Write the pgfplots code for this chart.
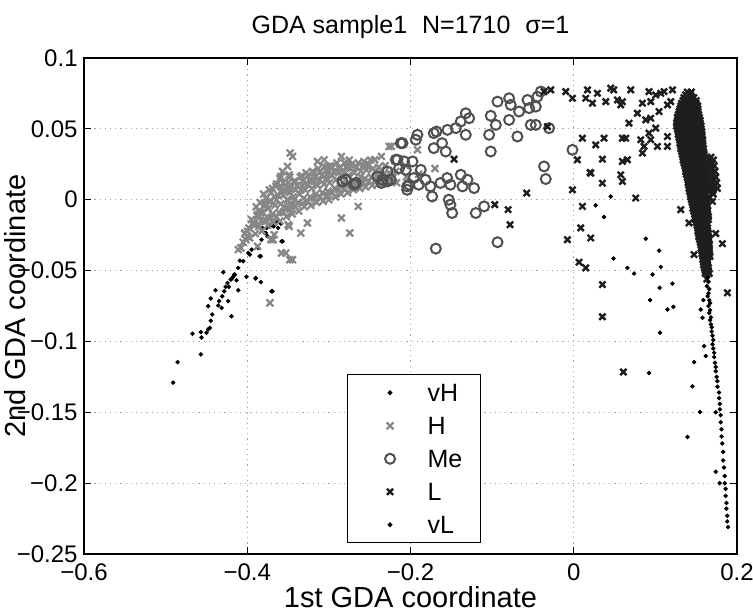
\documentclass[border=0pt]{standalone}
\usepackage{fontspec}
\setmainfont{Liberation Sans}
\usepackage{pgfplots}
\pgfplotsset{compat=1.18}
\definecolor{Hgray}{RGB}{135,135,135}
\definecolor{Megray}{RGB}{80,80,80}
\definecolor{Lblack}{RGB}{30,30,30}

\begin{document}
\begin{tikzpicture}
\begin{axis}[
  scale only axis, width=326.5pt, height=248pt,
  xmin=-0.6, xmax=0.2, ymin=-0.25, ymax=0.1,
  xtick={-0.6,-0.4,-0.2,0,0.2},
  xticklabels={−0.6,−0.4,−0.2,0,0.2},
  ytick={-0.25,-0.2,-0.15,-0.1,-0.05,0,0.05,0.1},
  yticklabels={−0.25,−0.2,−0.15,−0.1,−0.05,0,0.05,0.1},
  tick label style={font=\fontsize{12}{12}\selectfont},
  xticklabel style={anchor=base, inner sep=0pt, yshift=-13pt},
  yticklabel style={anchor=east, inner sep=0pt, xshift=-3pt},
  major tick length=3.5pt, tick style={black, line width=0.5pt},
  axis line style={line width=0.6pt},
  grid=major,
  major grid style={gray!70, line width=0.5pt, dash pattern=on 0.6pt off 2pt},
  xlabel={1st GDA coordinate},
  ylabel={2nd GDA coordinate},
  label style={font=\fontsize{14.5}{14.5}\selectfont},
  xlabel style={at={(axis description cs:0.5,0)}, anchor=base, yshift=-26.5pt},
  ylabel style={at={(axis description cs:-0.1057,0.5)}, anchor=center, rotate=0},
  every axis title shift=0pt,
  title={GDA sample1\hspace{0.6em}N=1710\hspace{0.6em}σ=1},
  title style={font=\fontsize{12.5}{12.5}\selectfont, at={(axis description cs:0.5,1)}, anchor=base, yshift=12pt},
  legend image code/.code={%
    \path (0pt,0pt) (22pt,0pt);
    \draw[mark repeat=2, mark phase=2, #1] plot coordinates {(0pt,0pt) (12pt,0pt) (22pt,0pt)};},
  legend style={font=\fontsize{12.5}{12.5}\selectfont, at={(axis cs:-0.278,-0.2425)}, anchor=south west,
    draw=black, line width=0.6pt, inner xsep=9pt, inner ysep=4.5pt, row sep=7.5pt,
    nodes={inner sep=0pt, text height=9pt, text depth=0pt},
    /tikz/every odd column/.append style={column sep=8.5pt}},
  legend cell align=left,
]
% vH
\addplot[only marks, mark=*, mark size=0.9pt, black] table {
-0.4908 -0.1291
-0.4854 -0.1146
-0.4568 -0.1092
-0.4670 -0.0946
-0.4560 -0.0972
-0.4568 -0.0934
-0.4499 -0.0939
-0.4479 -0.0915
-0.4458 -0.0904
-0.4446 -0.0854
-0.4430 -0.0810
-0.4479 -0.0751
-0.4446 -0.0697
-0.4388 -0.0639
-0.4356 -0.0746
-0.4344 -0.0716
-0.4315 -0.0763
-0.4307 -0.0681
-0.4295 -0.0512
-0.4283 -0.0646
-0.4266 -0.0615
-0.4242 -0.0587
-0.4234 -0.0716
-0.4226 -0.0615
-0.4193 -0.0559
-0.4193 -0.0822
-0.4173 -0.0544
-0.4152 -0.0528
-0.4131 -0.0568
-0.4111 -0.0639
-0.4111 -0.0481
-0.4090 -0.0430
-0.4050 -0.0434
-0.4009 -0.0544
-0.3988 -0.0376
-0.3968 -0.0387
-0.3947 -0.0352
-0.3898 -0.0556
-0.3866 -0.0340
-0.3846 -0.0399
-0.3833 -0.0582
-0.3825 -0.0282
-0.3785 -0.0235
-0.3764 -0.0199
-0.3723 -0.0188
-0.3703 -0.0646
-0.3683 -0.0176
-0.3642 -0.0164
-0.3580 -0.0294
-0.3622 -0.0199
-0.4201 -0.0563
-0.4160 -0.0528
-0.3895 -0.0552
-0.3834 -0.0399
-0.3813 -0.0199
-0.3772 -0.0235
-0.3752 -0.0258
-0.3731 -0.0183
-0.3711 -0.0176
-0.3678 -0.0188
-0.3662 -0.0164
-0.3629 -0.0141
-0.3589 -0.0169
-0.3568 -0.0294
-0.3690 -0.0646
};
\addlegendentry{vH}
% H
\addplot[only marks, mark=x, mark size=2.4pt, Hgray, mark options={line width=1.1pt}] table {
-0.3474 0.0329
-0.3445 0.0305
-0.3506 0.0235
-0.3568 0.0199
-0.3589 0.0164
-0.3487 0.0176
-0.3650 0.0094
-0.3515 0.0082
-0.3589 0.0059
-0.3772 0.0012
-0.3731 -0.0012
-0.3793 -0.0047
-0.3834 -0.0094
-0.3874 -0.0117
-0.3915 -0.0164
-0.3996 -0.0223
-0.4017 -0.0282
-0.4078 -0.0340
-0.3874 -0.0329
-0.3711 -0.0282
-0.3670 -0.0247
-0.3487 -0.0188
-0.3344 -0.0235
-0.3262 -0.0164
-0.3527 -0.0376
-0.3445 -0.0423
-0.3548 -0.0047
-0.3426 0.0000
-0.3344 0.0070
-0.3221 0.0129
-0.3140 0.0270
-0.3058 0.0282
-0.3017 0.0235
-0.2846 0.0305
-0.2764 0.0246
-0.2641 -0.0047
-0.2846 -0.0129
-0.2744 -0.0235
-0.2438 0.0282
-0.2356 0.0305
-0.2527 0.0235
-0.2609 0.0164
-0.2233 0.0376
-0.3723 -0.0728
-0.3580 -0.0376
-0.3478 -0.0423
-0.4110 -0.0352
-0.4029 -0.0235
-0.3866 -0.0106
-0.3785 -0.0023
-0.3683 -0.0282
-0.3499 -0.0176
-0.405 -0.030
-0.403 -0.024
-0.397 -0.027
-0.398 -0.020
-0.395 -0.014
-0.390 -0.024
-0.391 -0.018
-0.388 -0.011
-0.389 -0.005
-0.382 -0.022
-0.383 -0.015
-0.381 -0.009
-0.384 -0.002
-0.380 0.004
-0.375 -0.018
-0.376 -0.012
-0.374 -0.006
-0.377 0.001
-0.373 0.007
-0.368 -0.016
-0.369 -0.010
-0.366 -0.004
-0.367 0.002
-0.369 0.008
-0.360 -0.015
-0.361 -0.009
-0.359 -0.003
-0.362 0.003
-0.358 0.009
-0.360 0.015
-0.352 -0.012
-0.353 -0.006
-0.351 0.000
-0.354 0.006
-0.350 0.012
-0.345 -0.010
-0.346 -0.004
-0.344 0.002
-0.347 0.008
-0.343 0.013
-0.337 -0.008
-0.338 -0.002
-0.336 0.004
-0.339 0.010
-0.335 0.016
-0.330 -0.005
-0.331 0.001
-0.329 0.007
-0.332 0.013
-0.328 0.019
-0.322 -0.004
-0.323 0.002
-0.321 0.008
-0.324 0.014
-0.320 0.020
-0.315 -0.002
-0.316 0.004
-0.314 0.010
-0.317 0.016
-0.313 0.022
-0.307 -0.001
-0.308 0.005
-0.306 0.011
-0.309 0.017
-0.305 0.023
-0.300 0.000
-0.301 0.006
-0.299 0.012
-0.302 0.018
-0.298 0.024
-0.292 0.002
-0.293 0.008
-0.291 0.014
-0.294 0.020
-0.290 0.026
-0.285 0.004
-0.286 0.010
-0.284 0.016
-0.287 0.022
-0.277 0.005
-0.278 0.011
-0.276 0.017
-0.279 0.023
-0.275 0.028
-0.270 0.007
-0.271 0.013
-0.269 0.019
-0.272 0.025
-0.262 0.008
-0.263 0.014
-0.261 0.020
-0.264 0.026
-0.255 0.009
-0.256 0.015
-0.254 0.021
-0.257 0.027
-0.247 0.010
-0.248 0.016
-0.246 0.022
-0.249 0.028
-0.240 0.011
-0.241 0.017
-0.239 0.023
-0.232 0.012
-0.233 0.018
-0.231 0.024
-0.225 0.013
-0.226 0.019
-0.217 0.012
-0.218 0.020
-0.205 0.016
-0.206 0.024
-0.190 0.018
-0.170 0.022
-0.2262 0.0376
-0.1915 0.0352
-0.400 -0.026
-0.394 -0.017
-0.386 -0.019
-0.386 -0.008
-0.378 -0.015
-0.378 -0.003
-0.371 -0.013
-0.371 -0.001
-0.371 0.005
-0.364 -0.012
-0.364 0.000
-0.364 0.011
-0.356 -0.009
-0.356 0.003
-0.356 0.012
-0.348 -0.007
-0.348 0.005
-0.348 0.016
-0.341 -0.005
-0.341 0.007
-0.341 0.013
-0.333 -0.003
-0.333 0.010
-0.333 0.017
-0.326 -0.001
-0.326 0.011
-0.326 0.017
-0.318 0.001
-0.318 0.013
-0.318 0.019
-0.311 0.002
-0.311 0.014
-0.311 0.020
-0.303 0.003
-0.303 0.015
-0.303 0.021
-0.296 0.005
-0.296 0.017
-0.296 0.023
-0.288 0.007
-0.288 0.019
-0.281 0.008
-0.281 0.020
-0.281 0.026
-0.273 0.010
-0.273 0.022
-0.266 0.011
-0.266 0.023
-0.258 0.012
-0.258 0.024
-0.251 0.013
-0.251 0.025
-0.243 0.014
-0.243 0.020
-0.236 0.015
-0.236 0.021
-0.228 0.016
-0.221 0.016
};
\addlegendentry{H}
% Me
\addplot[only marks, mark=o, mark size=2.5pt, Megray, mark options={line width=1pt}] table {
-0.2098 0.0399
-0.1935 0.0423
-0.1915 0.0458
-0.1682 0.0481
-0.1547 0.0493
-0.1445 0.0505
-0.1384 0.0552
-0.1323 0.0610
-0.1282 0.0575
-0.1323 0.0458
-0.1613 0.0399
-0.1715 0.0364
-0.1568 0.0340
-0.1715 0.0470
-0.1017 0.0592
-0.0955 0.0528
-0.1037 0.0458
-0.1017 0.0340
-0.0934 0.0692
-0.0792 0.0716
-0.0772 0.0669
-0.0792 0.0563
-0.0670 0.0622
-0.0690 0.0446
-0.0567 0.0704
-0.0547 0.0646
-0.0465 0.0657
-0.0445 0.0727
-0.0404 0.0763
-0.0527 0.0528
-0.0465 0.0528
-0.0302 0.0505
-0.0016 0.0352
-0.0364 0.0235
-0.0343 0.0146
-0.0934 -0.0300
-0.1690 -0.0345
-0.2041 0.0094
-0.1960 0.0153
-0.1899 0.0106
-0.1817 0.0141
-0.1756 0.0094
-0.1735 0.0023
-0.1633 0.0118
-0.1551 0.0153
-0.1511 0.0106
-0.1531 0.0000
-0.1511 -0.0035
-0.1490 -0.0094
-0.1384 0.0176
-0.1302 0.0141
-0.1363 0.0094
-0.1221 0.0082
-0.1200 -0.0094
-0.1098 -0.0047
-0.1874 0.0211
-0.1976 0.0270
-0.2058 0.0211
-0.2119 0.0399
-0.2180 0.0282
-0.2078 0.0270
-0.2139 0.0223
-0.2160 0.0282
-0.2282 0.0199
-0.2405 0.0164
-0.2343 0.0141
-0.2282 0.0129
-0.2356 0.0118
-0.2670 0.0118
-0.2690 0.0106
-0.2792 0.0141
-0.2833 0.0129
-0.2017 0.0106
-0.2041 0.0070
-0.2242 0.0141
};
\addlegendentry{Me}
% L
\addplot[only marks, mark=x, mark size=2.2pt, Lblack, mark options={line width=1.2pt}] table {
-0.0098 0.0763
-0.0016 0.0716
0.0168 0.0775
0.0147 0.0716
0.0229 0.0681
0.0290 0.0751
0.0392 0.0692
0.0453 0.0787
0.0490 0.0775
0.0535 0.0704
0.0576 0.0669
0.0596 0.0692
0.0698 0.0775
0.0841 0.0681
0.0922 0.0763
0.0943 0.0692
0.1004 0.0739
0.1066 0.0751
0.1106 0.0763
0.1209 0.0775
0.1188 0.0692
0.1148 0.0669
0.1045 0.0622
0.0780 0.0610
0.0677 0.0540
0.0882 0.0563
0.0943 0.0575
0.1004 0.0505
0.0922 0.0470
0.0943 0.0423
0.0821 0.0423
0.0861 0.0376
0.0841 0.0329
0.1025 0.0376
0.1148 0.0376
0.1148 0.0446
0.0106 0.0434
0.0371 0.0434
0.0269 0.0387
0.0596 0.0434
0.0637 0.0434
0.0045 0.0282
0.0351 0.0286
0.0596 0.0270
0.0657 0.0282
0.0208 0.0188
0.0351 0.0117
0.0576 0.0176
0.0596 0.0129
-0.0016 0.0070
0.0759 0.0012
0.0106 -0.0047
0.0086 -0.0199
0.0208 -0.0270
-0.0078 -0.0282
0.0065 -0.0441
0.0147 -0.0481
0.0351 -0.0599
0.0351 -0.0826
0.1310 -0.0070
0.1412 -0.0164
0.1474 -0.0387
0.1739 -0.0239
0.1821 -0.0310
0.1699 -0.0012
0.1882 -0.0657
-0.1466 0.0286
-0.0576 0.0047
-0.0968 -0.0035
-0.0804 -0.0070
-0.0780 -0.0176
-0.0322 0.0516
-0.0282 0.0775
-0.0364 0.0763
0.0200 0.0192
0.0608 -0.1216
0.139 0.076
0.144 0.076
0.135 0.072
0.141 0.072
0.147 0.072
0.132 0.068
0.138 0.068
0.144 0.068
0.150 0.068
0.130 0.064
0.136 0.064
0.142 0.064
0.148 0.064
0.152 0.064
0.128 0.060
0.134 0.060
0.140 0.060
0.146 0.060
0.153 0.060
0.127 0.056
0.133 0.056
0.139 0.056
0.145 0.056
0.151 0.056
0.155 0.056
0.126 0.052
0.132 0.052
0.138 0.052
0.144 0.052
0.150 0.052
0.156 0.052
0.128 0.048
0.134 0.048
0.140 0.048
0.146 0.048
0.152 0.048
0.157 0.048
0.129 0.044
0.135 0.044
0.141 0.044
0.147 0.044
0.153 0.044
0.157 0.044
0.130 0.040
0.136 0.040
0.142 0.040
0.148 0.040
0.154 0.040
0.158 0.040
0.131 0.036
0.137 0.036
0.143 0.036
0.149 0.036
0.155 0.036
0.159 0.036
0.133 0.032
0.139 0.032
0.145 0.032
0.151 0.032
0.157 0.032
0.160 0.032
0.134 0.028
0.140 0.028
0.146 0.028
0.152 0.028
0.158 0.028
0.166 0.028
0.171 0.028
0.136 0.024
0.142 0.024
0.148 0.024
0.154 0.024
0.160 0.024
0.167 0.024
0.172 0.024
0.137 0.020
0.143 0.020
0.149 0.020
0.155 0.020
0.160 0.020
0.168 0.020
0.173 0.020
0.139 0.016
0.145 0.016
0.151 0.016
0.157 0.016
0.161 0.016
0.169 0.016
0.174 0.016
0.140 0.012
0.146 0.012
0.152 0.012
0.158 0.012
0.162 0.012
0.170 0.012
0.175 0.012
0.141 0.008
0.147 0.008
0.153 0.008
0.159 0.008
0.163 0.008
0.171 0.008
0.176 0.008
0.143 0.004
0.149 0.004
0.155 0.004
0.161 0.004
0.171 0.004
0.144 0.000
0.150 0.000
0.156 0.000
0.162 0.000
0.146 -0.004
0.152 -0.004
0.158 -0.004
0.164 -0.004
0.147 -0.008
0.153 -0.008
0.159 -0.008
0.164 -0.008
0.149 -0.012
0.155 -0.012
0.161 -0.012
0.165 -0.012
0.150 -0.016
0.156 -0.016
0.162 -0.016
0.152 -0.020
0.158 -0.020
0.164 -0.020
0.153 -0.024
0.159 -0.024
0.165 -0.024
0.154 -0.028
0.160 -0.028
0.166 -0.028
0.156 -0.032
0.161 -0.032
0.166 -0.032
0.157 -0.036
0.162 -0.036
0.166 -0.036
0.158 -0.040
0.163 -0.040
0.167 -0.040
0.159 -0.044
0.164 -0.044
0.160 -0.048
0.165 -0.048
0.161 -0.052
0.166 -0.052
0.163 -0.056
0.137 0.074
0.143 0.074
0.134 0.070
0.140 0.070
0.146 0.070
0.150 0.070
0.131 0.066
0.137 0.066
0.143 0.066
0.149 0.066
0.152 0.066
0.129 0.062
0.135 0.062
0.141 0.062
0.147 0.062
0.152 0.062
0.127 0.058
0.133 0.058
0.139 0.058
0.145 0.058
0.151 0.058
0.154 0.058
0.126 0.054
0.132 0.054
0.138 0.054
0.144 0.054
0.150 0.054
0.155 0.054
0.127 0.050
0.133 0.050
0.139 0.050
0.145 0.050
0.151 0.050
0.156 0.050
0.128 0.046
0.134 0.046
0.140 0.046
0.146 0.046
0.152 0.046
0.157 0.046
0.130 0.042
0.136 0.042
0.142 0.042
0.148 0.042
0.154 0.042
0.158 0.042
0.131 0.038
0.137 0.038
0.143 0.038
0.149 0.038
0.155 0.038
0.158 0.038
0.132 0.034
0.138 0.034
0.144 0.034
0.150 0.034
0.156 0.034
0.159 0.034
0.134 0.030
0.140 0.030
0.146 0.030
0.152 0.030
0.158 0.030
0.163 0.030
0.168 0.030
0.135 0.026
0.141 0.026
0.147 0.026
0.153 0.026
0.159 0.026
0.164 0.026
0.169 0.026
0.137 0.022
0.143 0.022
0.149 0.022
0.155 0.022
0.161 0.022
0.165 0.022
0.170 0.022
0.138 0.018
0.144 0.018
0.150 0.018
0.156 0.018
0.161 0.018
0.166 0.018
0.171 0.018
0.140 0.014
0.146 0.014
0.152 0.014
0.158 0.014
0.162 0.014
0.167 0.014
0.172 0.014
0.141 0.010
0.147 0.010
0.153 0.010
0.159 0.010
0.163 0.010
0.168 0.010
0.173 0.010
0.142 0.006
0.148 0.006
0.154 0.006
0.160 0.006
0.165 0.006
0.170 0.006
0.143 0.002
0.149 0.002
0.155 0.002
0.161 0.002
0.166 0.002
0.145 -0.002
0.151 -0.002
0.157 -0.002
0.163 -0.002
0.146 -0.006
0.152 -0.006
0.158 -0.006
0.163 -0.006
0.148 -0.010
0.154 -0.010
0.160 -0.010
0.164 -0.010
0.149 -0.014
0.155 -0.014
0.161 -0.014
0.165 -0.014
0.151 -0.018
0.157 -0.018
0.163 -0.018
0.152 -0.022
0.158 -0.022
0.164 -0.022
0.153 -0.026
0.159 -0.026
0.165 -0.026
0.155 -0.030
0.160 -0.030
0.165 -0.030
0.156 -0.034
0.161 -0.034
0.166 -0.034
0.157 -0.038
0.162 -0.038
0.166 -0.038
0.158 -0.042
0.163 -0.042
0.159 -0.046
0.164 -0.046
0.161 -0.050
0.165 -0.050
};
\addlegendentry{L}
% vL
\addplot[only marks, mark=*, mark size=0.9pt, black] table {
0.0453 0.0023
0.0269 -0.0040
0.0371 -0.0122
0.0882 -0.0275
0.1045 -0.0359
0.0486 -0.0415
0.0657 -0.0481
0.0739 -0.0521
0.0964 -0.0528
0.1066 -0.0474
0.1053 -0.0622
0.1209 -0.0592
0.0935 -0.0709
0.1148 -0.0775
0.1221 -0.0756
0.1057 -0.0939
0.1588 -0.0709
0.1555 -0.0775
0.1576 -0.0833
0.1474 -0.1146
0.0922 -0.1223
0.1454 -0.1317
0.1547 -0.1498
0.1393 -0.1674
0.1739 -0.1920
0.1596 -0.1033
0.1617 -0.1103
0.1740 -0.1500
0.1788 -0.2000
0.164 -0.055
0.165 -0.058
0.163 -0.061
0.166 -0.063
0.165 -0.066
0.164 -0.068
0.166 -0.071
0.167 -0.073
0.165 -0.075
0.167 -0.078
0.166 -0.080
0.168 -0.083
0.167 -0.085
0.168 -0.088
0.169 -0.090
0.169 -0.093
0.170 -0.096
0.171 -0.099
0.170 -0.102
0.171 -0.105
0.172 -0.108
0.172 -0.111
0.173 -0.115
0.174 -0.118
0.174 -0.121
0.175 -0.125
0.176 -0.128
0.176 -0.132
0.178 -0.136
0.178 -0.140
0.179 -0.144
0.179 -0.148
0.180 -0.152
0.180 -0.157
0.181 -0.162
0.181 -0.167
0.182 -0.172
0.183 -0.178
0.183 -0.184
0.184 -0.189
0.185 -0.195
0.185 -0.200
0.186 -0.204
0.186 -0.209
0.187 -0.214
0.187 -0.218
0.188 -0.223
0.188 -0.227
0.189 -0.231
};
\addlegendentry{vL}
\end{axis}
\pgfresetboundingbox
\path[use as bounding box] ([xshift=-42pt,yshift=-29.5pt]current axis.south west) rectangle ([xshift=8pt,yshift=29pt]current axis.north east);
\end{tikzpicture}
\end{document}
